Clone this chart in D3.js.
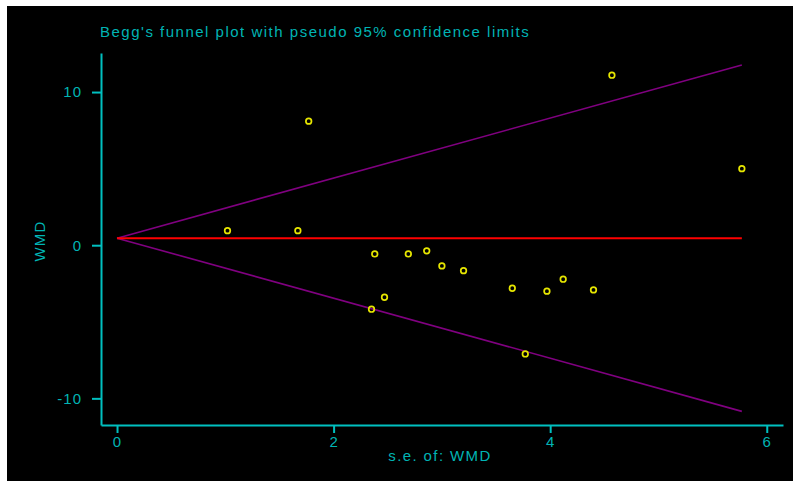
<!DOCTYPE html>
<meta charset="utf-8">
<style>
body { margin: 0; background: #fff; }
text { font-family: Arial, "Liberation Sans", sans-serif; fill: #00b4b4; }
.axis path, .axis line { stroke: #00c0c0; stroke-width: 2; }
.axis text { font-size: 15px; fill: #00b4b4; letter-spacing: 1px; }
</style>
<svg width="793" height="481"></svg>
<script src="https://d3js.org/d3.v7.min.js"></script>
<script>

// study standard errors and effect sizes (WMD)
var se  = [1.02, 1.67, 1.77, 4.57, 5.77, 2.38, 2.69, 2.86, 3.00, 3.20, 3.65, 3.97, 4.12, 4.40, 2.47, 2.35, 3.77];
var wmd = [0.95, 0.95, 8.10, 11.10, 5.00, -0.57, -0.57, -0.37, -1.35, -1.66, -2.81, -3.00, -2.22, -2.92, -3.40, -4.18, -7.10];
var pooled = 0.46;
var xTicks = [0, 2, 4, 6];
var yTicks = [-10, 0, 10];

var svg = d3.select("svg");

svg.append("rect")
    .attr("x", 7).attr("y", 6)
    .attr("width", 786).attr("height", 475)
    .attr("fill", "#000");

var x = d3.scaleLinear().domain([-0.148, 6.15]).range([101, 783]);
var y = d3.scaleLinear().domain([-11.74, 12.55]).range([425, 53]);

var seMax = d3.max(se);

svg.append("g")
    .attr("class", "axis")
    .attr("transform", "translate(0,425)")
    .call(d3.axisBottom(x).tickValues(xTicks).tickSize(8).tickSizeOuter(0).tickPadding(3).tickFormat(String));

svg.append("g")
    .attr("class", "axis")
    .attr("transform", "translate(101,0)")
    .call(d3.axisLeft(y).tickValues(yTicks).tickSize(9).tickSizeOuter(0).tickPadding(10).tickFormat(String));

svg.selectAll(".axis text").attr("font-family", null);

// pseudo 95% limits
var limits = [[0, pooled], [seMax, pooled + 1.96 * seMax]];
var limitsLo = [[0, pooled], [seMax, pooled - 1.96 * seMax]];
var line = d3.line().x(function(d){ return x(d[0]); }).y(function(d){ return y(d[1]); });

svg.append("path").attr("d", line(limits))
    .attr("stroke", "#800080").attr("stroke-width", 1.6).attr("fill", "none");
svg.append("path").attr("d", line(limitsLo))
    .attr("stroke", "#800080").attr("stroke-width", 1.6).attr("fill", "none");
svg.append("path").attr("d", line([[0, pooled], [seMax, pooled]]))
    .attr("stroke", "#ff0000").attr("stroke-width", 2).attr("fill", "none");

svg.selectAll(".pt")
    .data(d3.range(se.length))
    .enter().append("circle")
    .attr("class", "pt")
    .attr("cx", function(i){ return x(se[i]); })
    .attr("cy", function(i){ return y(wmd[i]); })
    .attr("r", 2.8)
    .attr("fill", "none")
    .attr("stroke", "#e6e600")
    .attr("stroke-width", 1.7);

svg.append("text")
    .attr("x", 100).attr("y", 37)
    .attr("font-size", 15)
    .attr("letter-spacing", 1.5)
    .text("Begg's funnel plot with pseudo 95% confidence limits");

svg.append("text")
    .attr("x", 440).attr("y", 461)
    .attr("text-anchor", "middle")
    .attr("font-size", 15)
    .attr("letter-spacing", 1.4)
    .text("s.e. of: WMD");

svg.append("text")
    .attr("transform", "translate(45,241) rotate(-90)")
    .attr("text-anchor", "middle")
    .attr("font-size", 15)
    .attr("letter-spacing", 1.2)
    .text("WMD");

</script>
